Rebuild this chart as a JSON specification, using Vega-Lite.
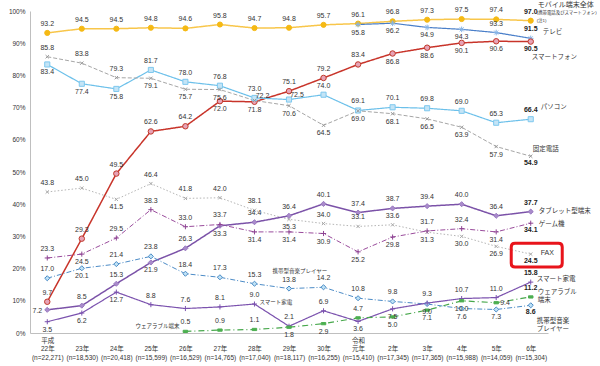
{
"$schema":"https://vega.github.io/schema/vega-lite/v6.json",
"width":518,"height":322,
"autosize":{"type":"none"},
"padding":{"left":30,"top":11,"right":52,"bottom":33},
"background":"white",
"config":{"view":{"stroke":null},"font":"Liberation Sans, Noto Sans CJK JP","text":{"fontSize":7,"color":"#333333"}},
"datasets":{
"years":[
{"yr":"22年","lab":"平成|22年|(n=22,271)"},{"yr":"23年","lab":"\u00a0|23年|(n=18,530)"},{"yr":"24年","lab":"\u00a0|24年|(n=20,418)"},{"yr":"25年","lab":"\u00a0|25年|(n=15,599)"},{"yr":"26年","lab":"\u00a0|26年|(n=16,529)"},{"yr":"27年","lab":"\u00a0|27年|(n=14,765)"},{"yr":"28年","lab":"\u00a0|28年|(n=17,040)"},{"yr":"29年","lab":"\u00a0|29年|(n=18,117)"},{"yr":"30年","lab":"\u00a0|30年|(n=16,255)"},{"yr":"元年","lab":"令和|元年|(n=15,410)"},{"yr":"2年","lab":"\u00a0|2年|(n=17,345)"},{"yr":"3年","lab":"\u00a0|3年|(n=17,365)"},{"yr":"4年","lab":"\u00a0|4年|(n=15,988)"},{"yr":"5年","lab":"\u00a0|5年|(n=14,059)"},{"yr":"6年","lab":"\u00a0|6年|(n=15,304)"}],
"rows":[
{"s":"モバイル端末全体","yr":"22年","v":93.2},{"s":"モバイル端末全体","yr":"23年","v":94.5},{"s":"モバイル端末全体","yr":"24年","v":94.5},{"s":"モバイル端末全体","yr":"25年","v":94.8},{"s":"モバイル端末全体","yr":"26年","v":94.6},{"s":"モバイル端末全体","yr":"27年","v":95.8},{"s":"モバイル端末全体","yr":"28年","v":94.7},{"s":"モバイル端末全体","yr":"29年","v":94.8},{"s":"モバイル端末全体","yr":"30年","v":95.7},{"s":"モバイル端末全体","yr":"元年","v":96.1},{"s":"モバイル端末全体","yr":"2年","v":96.8},{"s":"モバイル端末全体","yr":"3年","v":97.3},{"s":"モバイル端末全体","yr":"4年","v":97.5},{"s":"モバイル端末全体","yr":"5年","v":97.4},{"s":"モバイル端末全体","yr":"6年","v":97.0},
{"s":"テレビ","yr":"元年","v":95.8},{"s":"テレビ","yr":"2年","v":96.2},{"s":"テレビ","yr":"3年","v":94.9},{"s":"テレビ","yr":"4年","v":94.3},{"s":"テレビ","yr":"5年","v":93.3},{"s":"テレビ","yr":"6年","v":91.5},
{"s":"スマートフォン","yr":"22年","v":9.7},{"s":"スマートフォン","yr":"23年","v":29.3},{"s":"スマートフォン","yr":"24年","v":49.5},{"s":"スマートフォン","yr":"25年","v":62.6},{"s":"スマートフォン","yr":"26年","v":64.2},{"s":"スマートフォン","yr":"27年","v":72.0},{"s":"スマートフォン","yr":"28年","v":71.8},{"s":"スマートフォン","yr":"29年","v":75.1},{"s":"スマートフォン","yr":"30年","v":79.2},{"s":"スマートフォン","yr":"元年","v":83.4},{"s":"スマートフォン","yr":"2年","v":86.8},{"s":"スマートフォン","yr":"3年","v":88.6},{"s":"スマートフォン","yr":"4年","v":90.1},{"s":"スマートフォン","yr":"5年","v":90.6},{"s":"スマートフォン","yr":"6年","v":90.5},
{"s":"パソコン","yr":"22年","v":83.4},{"s":"パソコン","yr":"23年","v":77.4},{"s":"パソコン","yr":"24年","v":75.8},{"s":"パソコン","yr":"25年","v":81.7},{"s":"パソコン","yr":"26年","v":78.0},{"s":"パソコン","yr":"27年","v":76.8},{"s":"パソコン","yr":"28年","v":73.0},{"s":"パソコン","yr":"29年","v":72.5},{"s":"パソコン","yr":"30年","v":74.0},{"s":"パソコン","yr":"元年","v":69.1},{"s":"パソコン","yr":"2年","v":70.1},{"s":"パソコン","yr":"3年","v":69.8},{"s":"パソコン","yr":"4年","v":69.0},{"s":"パソコン","yr":"5年","v":65.3},{"s":"パソコン","yr":"6年","v":66.4},
{"s":"固定電話","yr":"22年","v":85.8},{"s":"固定電話","yr":"23年","v":83.8},{"s":"固定電話","yr":"24年","v":79.3},{"s":"固定電話","yr":"25年","v":79.1},{"s":"固定電話","yr":"26年","v":75.7},{"s":"固定電話","yr":"27年","v":75.6},{"s":"固定電話","yr":"28年","v":72.2},{"s":"固定電話","yr":"29年","v":70.6},{"s":"固定電話","yr":"30年","v":64.5},{"s":"固定電話","yr":"元年","v":69.0},{"s":"固定電話","yr":"2年","v":68.1},{"s":"固定電話","yr":"3年","v":66.5},{"s":"固定電話","yr":"4年","v":63.9},{"s":"固定電話","yr":"5年","v":57.9},{"s":"固定電話","yr":"6年","v":54.9},
{"s":"FAX","yr":"22年","v":43.8},{"s":"FAX","yr":"23年","v":45.0},{"s":"FAX","yr":"24年","v":41.5},{"s":"FAX","yr":"25年","v":46.4},{"s":"FAX","yr":"26年","v":41.8},{"s":"FAX","yr":"27年","v":42.0},{"s":"FAX","yr":"28年","v":38.1},{"s":"FAX","yr":"29年","v":35.3},{"s":"FAX","yr":"30年","v":34.0},{"s":"FAX","yr":"元年","v":33.1},{"s":"FAX","yr":"2年","v":33.6},{"s":"FAX","yr":"3年","v":31.3},{"s":"FAX","yr":"4年","v":30.0},{"s":"FAX","yr":"5年","v":26.9},{"s":"FAX","yr":"6年","v":24.5},
{"s":"タブレット型端末","yr":"22年","v":7.2},{"s":"タブレット型端末","yr":"23年","v":8.5},{"s":"タブレット型端末","yr":"24年","v":15.3},{"s":"タブレット型端末","yr":"25年","v":21.9},{"s":"タブレット型端末","yr":"26年","v":26.3},{"s":"タブレット型端末","yr":"27年","v":33.3},{"s":"タブレット型端末","yr":"28年","v":34.4},{"s":"タブレット型端末","yr":"29年","v":36.4},{"s":"タブレット型端末","yr":"30年","v":40.1},{"s":"タブレット型端末","yr":"元年","v":37.4},{"s":"タブレット型端末","yr":"2年","v":38.7},{"s":"タブレット型端末","yr":"3年","v":39.4},{"s":"タブレット型端末","yr":"4年","v":40.0},{"s":"タブレット型端末","yr":"5年","v":36.4},{"s":"タブレット型端末","yr":"6年","v":37.7},
{"s":"ゲーム機","yr":"22年","v":23.3},{"s":"ゲーム機","yr":"23年","v":24.5},{"s":"ゲーム機","yr":"24年","v":29.5},{"s":"ゲーム機","yr":"25年","v":38.3},{"s":"ゲーム機","yr":"26年","v":33.0},{"s":"ゲーム機","yr":"27年","v":33.7},{"s":"ゲーム機","yr":"28年","v":31.4},{"s":"ゲーム機","yr":"29年","v":31.4},{"s":"ゲーム機","yr":"30年","v":30.9},{"s":"ゲーム機","yr":"元年","v":25.2},{"s":"ゲーム機","yr":"2年","v":29.8},{"s":"ゲーム機","yr":"3年","v":31.7},{"s":"ゲーム機","yr":"4年","v":32.4},{"s":"ゲーム機","yr":"5年","v":31.4},{"s":"ゲーム機","yr":"6年","v":34.1},
{"s":"携帯型音楽プレイヤー","yr":"22年","v":17.0},{"s":"携帯型音楽プレイヤー","yr":"23年","v":20.1},{"s":"携帯型音楽プレイヤー","yr":"24年","v":21.4},{"s":"携帯型音楽プレイヤー","yr":"25年","v":23.8},{"s":"携帯型音楽プレイヤー","yr":"26年","v":18.4},{"s":"携帯型音楽プレイヤー","yr":"27年","v":17.3},{"s":"携帯型音楽プレイヤー","yr":"28年","v":15.3},{"s":"携帯型音楽プレイヤー","yr":"29年","v":13.8},{"s":"携帯型音楽プレイヤー","yr":"30年","v":14.2},{"s":"携帯型音楽プレイヤー","yr":"元年","v":10.8},{"s":"携帯型音楽プレイヤー","yr":"2年","v":9.8},{"s":"携帯型音楽プレイヤー","yr":"3年","v":9.0},{"s":"携帯型音楽プレイヤー","yr":"4年","v":7.6},{"s":"携帯型音楽プレイヤー","yr":"5年","v":7.3},{"s":"携帯型音楽プレイヤー","yr":"6年","v":8.6},
{"s":"スマート家電","yr":"22年","v":3.5},{"s":"スマート家電","yr":"23年","v":6.2},{"s":"スマート家電","yr":"24年","v":12.7},{"s":"スマート家電","yr":"25年","v":8.8},{"s":"スマート家電","yr":"26年","v":7.6},{"s":"スマート家電","yr":"27年","v":8.1},{"s":"スマート家電","yr":"28年","v":9.0},{"s":"スマート家電","yr":"29年","v":2.1},{"s":"スマート家電","yr":"30年","v":6.9},{"s":"スマート家電","yr":"元年","v":3.6},{"s":"スマート家電","yr":"2年","v":7.5},{"s":"スマート家電","yr":"3年","v":9.3},{"s":"スマート家電","yr":"4年","v":10.7},{"s":"スマート家電","yr":"5年","v":11.0},{"s":"スマート家電","yr":"6年","v":15.8},
{"s":"ウェアラブル端末","yr":"26年","v":0.5},{"s":"ウェアラブル端末","yr":"27年","v":0.9},{"s":"ウェアラブル端末","yr":"28年","v":1.1},{"s":"ウェアラブル端末","yr":"29年","v":1.8},{"s":"ウェアラブル端末","yr":"30年","v":2.9},{"s":"ウェアラブル端末","yr":"元年","v":4.7},{"s":"ウェアラブル端末","yr":"2年","v":5.0},{"s":"ウェアラブル端末","yr":"3年","v":7.1},{"s":"ウェアラブル端末","yr":"4年","v":10.0},{"s":"ウェアラブル端末","yr":"5年","v":9.4},{"s":"ウェアラブル端末","yr":"6年","v":11.2}
]},
"data":{"name":"rows"},
"transform":[{"lookup":"yr","from":{"data":{"name":"years"},"key":"yr","fields":["lab"]}}],
"encoding":{
"x":{"field":"lab","type":"nominal","scale":{"type":"point","padding":0.5,"domain":["平成|22年|(n=22,271)","\u00a0|23年|(n=18,530)","\u00a0|24年|(n=20,418)","\u00a0|25年|(n=15,599)","\u00a0|26年|(n=16,529)","\u00a0|27年|(n=14,765)","\u00a0|28年|(n=17,040)","\u00a0|29年|(n=18,117)","\u00a0|30年|(n=16,255)","令和|元年|(n=15,410)","\u00a0|2年|(n=17,345)","\u00a0|3年|(n=17,365)","\u00a0|4年|(n=15,988)","\u00a0|5年|(n=14,059)","\u00a0|6年|(n=15,304)"]},
"axis":{"title":null,"labelExpr":"split(datum.label,'|')","labelAngle":0,"ticks":false,"domainColor":"#bfbfbf","labelFontSize":6.5,"labelColor":"#333333","labelPadding":4,"labelLineHeight":8.5,"labelOverlap":false,"labelBound":false,"labelFlush":false}},
"y":{"field":"v","type":"quantitative","scale":{"domain":[0,100]},
"axis":{"title":null,"values":[0,10,20,30,40,50,60,70,80,90,100],"labelExpr":"datum.value+'%'","ticks":false,"grid":false,"domainColor":"#bfbfbf","labelFontSize":6.5,"labelColor":"#333333","labelPadding":5}}
},
"layer":[
{"mark":{"type":"line"},
"encoding":{
"color":{"field":"s","type":"nominal","legend":null,"scale":{"domain":["モバイル端末全体","テレビ","スマートフォン","パソコン","固定電話","FAX","タブレット型端末","ゲーム機","携帯型音楽プレイヤー","スマート家電","ウェアラブル端末"],"range":["#F8C64A","#4A7FC9","#C8342A","#6CC0EA","#A6A6A6","#B5B5B5","#7B52A8","#9A4C9C","#4D8CC7","#7B52AE","#48A84C"]}},
"strokeDash":{"field":"s","type":"nominal","legend":null,"scale":{"domain":["モバイル端末全体","テレビ","スマートフォン","パソコン","固定電話","FAX","タブレット型端末","ゲーム機","携帯型音楽プレイヤー","スマート家電","ウェアラブル端末"],"range":[[1,0],[1,0],[1,0],[1,0],[4,2],[1.5,2],[1,0],[5,2,1,2],[5,2,1,2],[1,0],[6,3,1,3]]}},
"strokeWidth":{"field":"s","type":"nominal","legend":null,"scale":{"type":"ordinal","domain":["モバイル端末全体","テレビ","スマートフォン","パソコン","固定電話","FAX","タブレット型端末","ゲーム機","携帯型音楽プレイヤー","スマート家電","ウェアラブル端末"],"range":[1.5,1.2,1.5,1.2,1,1,1.5,1,1,1.2,1.2]}}
}},
{"mark":{"type":"point","filled":true,"opacity":1,"strokeWidth":1},
"encoding":{
"shape":{"field":"s","type":"nominal","legend":null,"scale":{"domain":["モバイル端末全体","テレビ","スマートフォン","パソコン","固定電話","FAX","タブレット型端末","ゲーム機","携帯型音楽プレイヤー","スマート家電","ウェアラブル端末"],"range":["circle","M-1,0L1,0M0,-1L0,1M-0.7,-0.7L0.7,0.7M-0.7,0.7L0.7,-0.7","circle","square","M-0.7,-0.7L0.7,0.7M-0.7,0.7L0.7,-0.7","M-0.7,-0.7L0.7,0.7M-0.7,0.7L0.7,-0.7","diamond","M-1,0L1,0M0,-1L0,1","diamond","M-1,0L1,0M0,-1L0,1","M-1,-0.5L1,-0.5L1,0.5L-1,0.5Z"]}},
"fill":{"field":"s","type":"nominal","legend":null,"scale":{"domain":["モバイル端末全体","テレビ","スマートフォン","パソコン","固定電話","FAX","タブレット型端末","ゲーム機","携帯型音楽プレイヤー","スマート家電","ウェアラブル端末"],"range":["#F5B914","#86B4E6","#E7A3B6","#C4E4F6","#999999","#AAAAAA","#A98BCB","#8E4493","#C0E2F5","#7B52AE","#4CAF50"]}},
"stroke":{"field":"s","type":"nominal","legend":null,"scale":{"domain":["モバイル端末全体","テレビ","スマートフォン","パソコン","固定電話","FAX","タブレット型端末","ゲーム機","携帯型音楽プレイヤー","スマート家電","ウェアラブル端末"],"range":["#F5B914","#86B4E6","#C0392B","#7EC8EE","#999999","#AAAAAA","#9A7AC0","#8E4493","#4A8CC7","#7B52AE","#4CAF50"]}},
"size":{"field":"s","type":"nominal","legend":null,"scale":{"type":"ordinal","domain":["モバイル端末全体","テレビ","スマートフォン","パソコン","固定電話","FAX","タブレット型端末","ゲーム機","携帯型音楽プレイヤー","スマート家電","ウェアラブル端末"],"range":[26,32,30,26,22,22,26,26,26,26,20]}}
}},
{"transform":[{"filter":"datum.yr!='6年' && indexof(['テレビ|元年','テレビ|2年','テレビ|3年','テレビ|4年','スマートフォン|27年','スマートフォン|28年','スマートフォン|2年','スマートフォン|3年','スマートフォン|4年','スマートフォン|5年','パソコン|22年','パソコン|23年','パソコン|24年','固定電話|25年','固定電話|26年','固定電話|27年','固定電話|29年','固定電話|30年','固定電話|元年','固定電話|2年','固定電話|3年','固定電話|4年','固定電話|5年','FAX|24年','FAX|29年','FAX|3年','FAX|4年','FAX|5年','タブレット型端末|25年','タブレット型端末|27年','ゲーム機|23年','ゲーム機|28年','ゲーム機|29年','ゲーム機|30年','ゲーム機|元年','ゲーム機|2年','ゲーム機|5年','携帯型音楽プレイヤー|23年','携帯型音楽プレイヤー|3年','携帯型音楽プレイヤー|4年','携帯型音楽プレイヤー|5年','スマート家電|22年','スマート家電|23年','スマート家電|24年','スマート家電|元年','スマート家電|2年','ウェアラブル端末|29年','ウェアラブル端末|30年','ウェアラブル端末|2年','ウェアラブル端末|3年','ウェアラブル端末|4年'], datum.s+'|'+datum.yr)<0 && indexof(['タブレット型端末|22年','ウェアラブル端末|5年','固定電話|28年','パソコン|29年'], datum.s+'|'+datum.yr)<0"}],
"mark":{"type":"text","dy":-9,"fontSize":7,"color":"#333333"},
"encoding":{"text":{"field":"v","type":"quantitative","format":".1f"}}},
{"transform":[{"filter":"datum.yr!='6年' && indexof(['テレビ|元年','テレビ|2年','テレビ|3年','テレビ|4年','スマートフォン|27年','スマートフォン|28年','スマートフォン|2年','スマートフォン|3年','スマートフォン|4年','スマートフォン|5年','パソコン|22年','パソコン|23年','パソコン|24年','固定電話|25年','固定電話|26年','固定電話|27年','固定電話|29年','固定電話|30年','固定電話|元年','固定電話|2年','固定電話|3年','固定電話|4年','固定電話|5年','FAX|24年','FAX|29年','FAX|3年','FAX|4年','FAX|5年','タブレット型端末|25年','タブレット型端末|27年','ゲーム機|23年','ゲーム機|28年','ゲーム機|29年','ゲーム機|30年','ゲーム機|元年','ゲーム機|2年','ゲーム機|5年','携帯型音楽プレイヤー|23年','携帯型音楽プレイヤー|3年','携帯型音楽プレイヤー|4年','携帯型音楽プレイヤー|5年','スマート家電|22年','スマート家電|23年','スマート家電|24年','スマート家電|元年','スマート家電|2年','ウェアラブル端末|29年','ウェアラブル端末|30年','ウェアラブル端末|2年','ウェアラブル端末|3年','ウェアラブル端末|4年'], datum.s+'|'+datum.yr)>=0"}],
"mark":{"type":"text","dy":8,"fontSize":7,"color":"#333333"},
"encoding":{"text":{"field":"v","type":"quantitative","format":".1f"}}},
{"transform":[{"filter":"datum.s=='タブレット型端末' && datum.yr=='22年'"}],
"mark":{"type":"text","align":"right","dx":-5,"dy":1,"fontSize":7,"color":"#333333"},
"encoding":{"text":{"field":"v","type":"quantitative","format":".1f"}}},
{"transform":[{"filter":"datum.s=='ウェアラブル端末' && datum.yr=='5年'"}],
"mark":{"type":"text","align":"left","dx":4,"dy":0,"fontSize":7,"color":"#333333"},
"encoding":{"text":{"field":"v","type":"quantitative","format":".1f"}}},
{"transform":[{"filter":"(datum.s=='固定電話' && datum.yr=='28年') || (datum.s=='パソコン' && datum.yr=='29年')"}],
"mark":{"type":"text","dx":8,"dy":-5,"fontSize":7,"color":"#333333"},
"encoding":{"text":{"field":"v","type":"quantitative","format":".1f"}}},
{"transform":[{"filter":"datum.yr=='6年' && indexof(['スマートフォン','固定電話','FAX','ゲーム機','携帯型音楽プレイヤー'], datum.s)<0"}],
"mark":{"type":"text","dy":-9,"fontSize":7,"fontWeight":"bold","color":"#222222"},
"encoding":{"text":{"field":"v","type":"quantitative","format":".1f"}}},
{"transform":[{"filter":"datum.yr=='6年' && indexof(['スマートフォン','固定電話','FAX','ゲーム機','携帯型音楽プレイヤー'], datum.s)>=0"}],
"mark":{"type":"text","dy":7,"fontSize":7,"fontWeight":"bold","color":"#222222"},
"encoding":{"text":{"field":"v","type":"quantitative","format":".1f"}}},
{"transform":[{"filter":"datum.s=='FAX' && datum.yr=='6年'"}],
"mark":{"type":"point","shape":"M-0.85,-0.47L0.85,-0.47Q1,-0.47 1,-0.32L1,0.32Q1,0.47 0.85,0.47L-0.85,0.47Q-1,0.47 -1,0.32L-1,-0.32Q-1,-0.47 -0.85,-0.47Z","size":2601,"filled":false,"stroke":"#E8141B","strokeWidth":3,"opacity":1,"xOffset":6,"yOffset":1}},
{"transform":[{"filter":"datum.s=='モバイル端末全体' && datum.yr=='6年'"}],
"mark":{"type":"text","text":"モバイル端末全体","align":"left","dx":7,"dy":-16,"fontSize":7,"color":"#333333"}},
{"transform":[{"filter":"datum.s=='モバイル端末全体' && datum.yr=='6年'"}],
"mark":{"type":"text","text":["(携帯電話及びスマートフォン)","(注1)"],"align":"left","dx":6,"dy":-8,"fontSize":4.4,"lineHeight":8,"color":"#333333"}},
{"transform":[{"filter":"datum.s=='テレビ' && datum.yr=='6年'"}],
"mark":{"type":"text","text":"テレビ","align":"left","dx":12,"dy":-6,"fontSize":6.5,"color":"#333333"}},
{"transform":[{"filter":"datum.s=='スマートフォン' && datum.yr=='6年'"}],
"mark":{"type":"text","text":"スマートフォン","align":"left","dx":1,"dy":15,"fontSize":6.5,"color":"#333333"}},
{"transform":[{"filter":"datum.s=='パソコン' && datum.yr=='6年'"}],
"mark":{"type":"text","text":"パソコン","align":"left","dx":10,"dy":-12,"fontSize":6.5,"color":"#333333"}},
{"transform":[{"filter":"datum.s=='固定電話' && datum.yr=='6年'"}],
"mark":{"type":"text","text":"固定電話","align":"left","dx":2,"dy":-7,"fontSize":6.5,"color":"#333333"}},
{"transform":[{"filter":"datum.s=='タブレット型端末' && datum.yr=='6年'"}],
"mark":{"type":"text","text":"タブレット型端末","align":"left","dx":8,"dy":-1,"fontSize":6.5,"color":"#333333"}},
{"transform":[{"filter":"datum.s=='ゲーム機' && datum.yr=='6年'"}],
"mark":{"type":"text","text":"ゲーム機","align":"left","dx":8,"dy":1,"fontSize":6.5,"color":"#333333"}},
{"transform":[{"filter":"datum.s=='FAX' && datum.yr=='6年'"}],
"mark":{"type":"text","text":"FAX","align":"left","dx":10,"dy":-1,"fontSize":7,"color":"#333333"}},
{"transform":[{"filter":"datum.s=='スマート家電' && datum.yr=='6年'"}],
"mark":{"type":"text","text":"スマート家電","align":"left","dx":6,"dy":-3,"fontSize":6.5,"color":"#333333"}},
{"transform":[{"filter":"datum.s=='ウェアラブル端末' && datum.yr=='6年'"}],
"mark":{"type":"text","text":["ウェアラブル","端末"],"align":"left","dx":7,"dy":-5,"fontSize":6.5,"lineHeight":8,"color":"#333333"}},
{"transform":[{"filter":"datum.s=='携帯型音楽プレイヤー' && datum.yr=='6年'"}],
"mark":{"type":"text","text":["携帯型音楽","プレイヤー"],"align":"left","dx":6,"dy":16,"fontSize":6.5,"lineHeight":8,"color":"#333333"}},
{"transform":[{"filter":"datum.s=='携帯型音楽プレイヤー' && datum.yr=='28年'"}],
"mark":{"type":"text","text":"携帯型音楽プレイヤー","align":"left","dx":18,"dy":-13,"fontSize":5.5,"color":"#333333"}},
{"transform":[{"filter":"datum.s=='スマート家電' && datum.yr=='28年'"}],
"mark":{"type":"text","text":"スマート家電","align":"left","dx":5,"dy":-2,"fontSize":5.5,"color":"#333333"}},
{"transform":[{"filter":"datum.s=='ウェアラブル端末' && datum.yr=='26年'"}],
"mark":{"type":"text","text":"ウェアラブル端末","align":"right","dx":-6,"dy":-5,"fontSize":5.5,"color":"#333333"}}
]
}
